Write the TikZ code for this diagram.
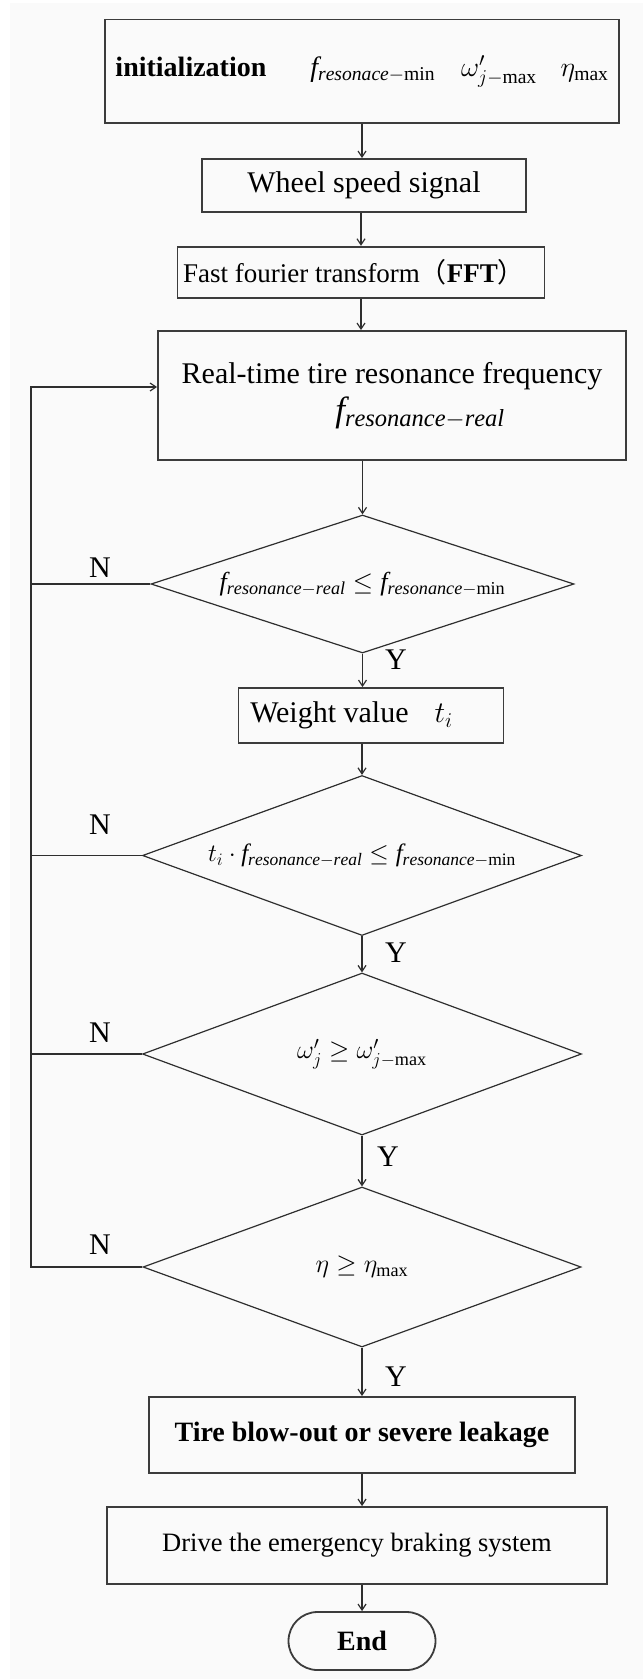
\documentclass[tikz,border=0pt]{standalone}
\usepackage{fix-cm}
\usepackage{fontspec}
\setmainfont{Liberation Serif}
\newfontfamily\cjk{Noto Sans CJK SC}
\usetikzlibrary{arrows.meta,shapes.geometric,positioning}
\definecolor{linecol}{HTML}{2E2E2E}
\definecolor{boxcol}{HTML}{3C3C3C}
\definecolor{bgcol}{HTML}{FAFAFA}
\newcommand{\fres}[1]{\mathit{f}_{\mathit{resonance}-#1}}
\newcommand{\fresmin}{\fres{\mathrm{min}}}
\newcommand{\fresreal}{\fres{\mathit{real}}}
\newcommand{\omax}{\omega'_{j-\mathrm{max}}}
\newcommand{\etamax}{\eta_{\mathrm{max}}}
\tikzset{
  procbox/.style={
    draw = boxcol,
    line width = 1.8pt,
    shape = rectangle,
    inner sep = 0pt
  },
  cond/.style={
    draw = linecol,
    line width = 1.2pt,
    shape = diamond,
    aspect = 2.75,
    inner sep = 0pt,
    font = \fontsize{26}{30}\selectfont
  },
  arr/.style={
    -{Straight Barb[length=6pt,width=8pt]},
    line width = 1.2pt,
    draw = linecol
  },
  link/.style={
    line width = 1.2pt,
    draw = linecol
  },
  yn/.style={
    inner sep = 0pt,
    font = \fontsize{30}{30}\selectfont
  },
  every node/.style={
    font = \fontsize{28}{34}\selectfont
  }
}

\begin{document}
\begin{tikzpicture}[x=1pt, y=-1pt]
    \useasboundingbox (0,0) rectangle (643,1679);
    \fill[bgcol] (10,3) rectangle (643,1679);
    \coordinate (fb) at (31,387);
    \node[procbox, minimum width=514pt, minimum height=103.5pt] (init) at (362,71.2)
        {\textbf{initialization}\hspace{44pt}$\mathit{f}_{\mathit{resonace}-\mathrm{min}}$\hspace{26pt}$\omax$\hspace{24pt}$\etamax$};
    \node[procbox, minimum width=324pt, minimum height=53pt, font=\fontsize{30}{34}\selectfont] (wheel) at (364,185.5)
        {Wheel speed signal};
    \node[procbox, minimum width=367pt, minimum height=51.6pt, font=\fontsize{27}{32}\selectfont] (fft) at (361,272.5)
        {Fast fourier transform{\cjk （}\textbf{FFT}{\cjk ）}\hspace*{14pt}};
    \node[procbox, minimum width=468pt, minimum height=129pt, align=center, font=\fontsize{30}{34}\selectfont] (rt) at (392,395.5)
        {Real-time tire resonance frequency\\[4pt]\hspace*{56pt}{\fontsize{35}{35}\selectfont$\fresreal$}};
    \node[cond, minimum width=423pt, minimum height=138pt] (d1) at (362.5,584) {$\fresreal \leq \fresmin$};
    \node[procbox, minimum width=265pt, minimum height=55pt, font=\fontsize{30}{34}\selectfont] (wt) at (371,715.5)
        {Weight value\hspace{26pt}$t_i$\hspace*{39pt}};
    \node[cond, minimum width=439pt, minimum height=160pt, font=\fontsize{25}{30}\selectfont] (d2) at (362,855.5)
        {$t_i\cdot\fresreal \leq \fresmin$};
    \node[cond, minimum width=439pt, minimum height=162pt] (d3) at (362,1054) {$\omega'_j \geq \omax$};
    \node[cond, minimum width=438pt, minimum height=160pt] (d4) at (362,1267) {$\eta \geq \etamax$};
    \node[procbox, minimum width=426pt, minimum height=76pt] (tire) at (362,1435)
        {\textbf{Tire blow-out or severe leakage}};
    \node[procbox, minimum width=500pt, minimum height=77pt, font=\fontsize{26.5}{32}\selectfont] (drive) at (357,1545.5)
        {Drive the emergency braking system};
    \node[procbox, minimum width=147pt, minimum height=58pt, rounded corners=29pt] (end) at (362,1641)
        {\textbf{End}};
    \node[yn] (n1) at (100,568) {N};
    \node[yn] (n2) at (100,825) {N};
    \node[yn] (n3) at (100,1033) {N};
    \node[yn] (n4) at (100,1245) {N};
    \node[yn] (y1) at (396,660) {Y};
    \node[yn] (y2) at (396,953) {Y};
    \node[yn] (y3) at (388,1157) {Y};
    \node[yn] (y4) at (396,1377) {Y};
    \draw[arr] (init.south) -- (init.south |- wheel.north);
    \draw[arr] (fft.north |- wheel.south) -- (fft.north);
    \draw[arr] (fft.south) -- (fft.south |- rt.north);
    \draw[arr] (d1.north |- rt.south) -- (d1.north);
    \draw[arr] (d1.south) -- (d1.south |- wt.north);
    \draw[arr] (d2.north |- wt.south) -- (d2.north);
    \draw[arr] (d2.south) -- (d3.north);
    \draw[arr] (d3.south) -- (d4.north);
    \draw[arr] (d4.south) -- (d4.south |- tire.north);
    \draw[arr] (tire.south) -- (tire.south |- drive.north);
    \draw[arr] (end.north |- drive.south) -- (end.north);
    \draw[link] (d1.west) -- (d1.west -| fb);
    \draw[link] (d2.west) -- (d2.west -| fb);
    \draw[link] (d3.west) -- (d3.west -| fb);
    \draw[arr] (d4.west) -| (fb) -- (fb -| rt.west);
\end{tikzpicture}
\end{document}
